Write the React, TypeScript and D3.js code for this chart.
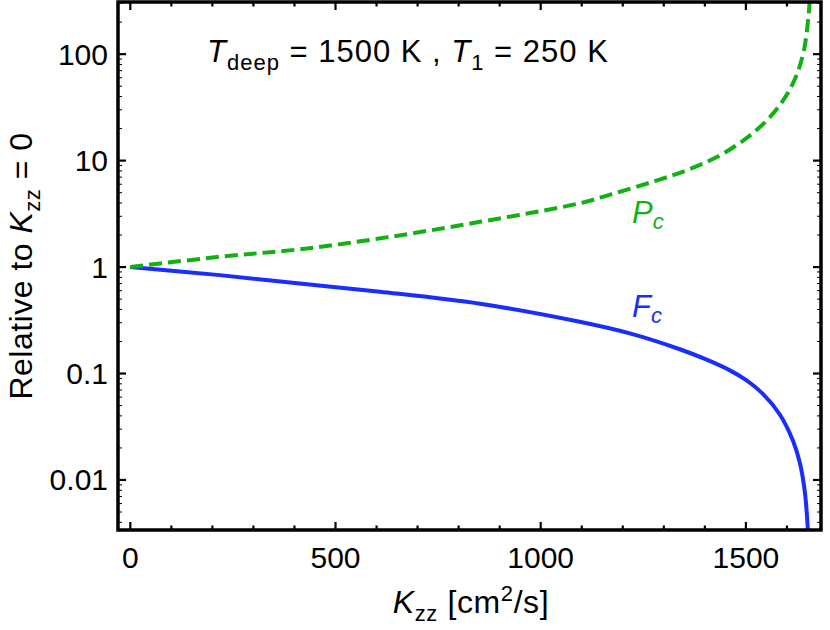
import React, { useEffect, useRef } from 'react';
import * as d3 from 'd3';

// F_c curve (solid blue)
const kzzF = [0, 218, 413, 608, 852, 1095, 1217, 1339, 1400, 1461, 1500, 1542, 1583, 1615, 1632, 1644, 1651, 1656];
const fC = [1, 0.84, 0.70, 0.586, 0.452, 0.306, 0.238, 0.169, 0.137, 0.107, 0.087, 0.064, 0.041, 0.0232, 0.0142, 0.0075, 0.0034, 0.0012];

// P_c curve (dashed green)
const kzzP = [0, 218, 413, 624, 852, 1097, 1171, 1280, 1354, 1429, 1495, 1545, 1587, 1620, 1641, 1653, 1658];
const pC = [1, 1.25, 1.47, 1.9, 2.66, 3.99, 4.82, 6.46, 8.06, 10.8, 15.6, 22.6, 35, 59, 107, 239, 450];

const xTicks = [0, 500, 1000, 1500];
const yTicks = [0.01, 0.1, 1, 10, 100];
const yTickLabels = ['0.01', '0.1', '1', '10', '100'];

const FONT = 'Liberation Sans, Arial, Helvetica, sans-serif';
const BLUE = '#1a2dff';
const GREEN = '#12b012';

const App = () => {
  const ref = useRef<SVGSVGElement>(null);

  useEffect(() => {
    if (!ref.current) return;
    const svg = d3.select(ref.current);
    svg.selectAll('*').remove();

    const left = 118, right = 821, top = 2, bottom = 530;

    const x = d3.scaleLinear().domain([-30, 1683]).range([left, right]);
    const y = d3.scaleLog()
      .domain([Math.pow(10, -2.47), Math.pow(10, 2.49)])
      .range([bottom, top]);

    svg.append('defs').append('clipPath').attr('id', 'plotclip')
      .append('rect')
      .attr('x', left).attr('y', top)
      .attr('width', right - left).attr('height', bottom - top);

    // curves
    const plot = svg.append('g').attr('clip-path', 'url(#plotclip)');

    const lineF = d3.line<number>()
      .x((d, i) => x(kzzF[i]))
      .y(d => y(d))
      .curve(d3.curveCatmullRom.alpha(0.5));
    const lineP = d3.line<number>()
      .x((d, i) => x(kzzP[i]))
      .y(d => y(d))
      .curve(d3.curveCatmullRom.alpha(0.5));

    plot.append('path')
      .datum(fC)
      .attr('d', lineF)
      .attr('fill', 'none')
      .attr('stroke', BLUE)
      .attr('stroke-width', 4);

    plot.append('path')
      .datum(pC)
      .attr('d', lineP)
      .attr('fill', 'none')
      .attr('stroke', GREEN)
      .attr('stroke-width', 4)
      .attr('stroke-dasharray', '13,6');

    // ticks on all four sides
    const tk = svg.append('g').attr('stroke', '#000');
    const xMinor = d3.range(0, 1700, 100);
    xMinor.forEach(v => {
      const len = v % 500 === 0 ? 8 : 4.5;
      tk.append('line').attr('x1', x(v)).attr('x2', x(v)).attr('y1', bottom).attr('y2', bottom - len).attr('stroke-width', 2.2);
      tk.append('line').attr('x1', x(v)).attr('x2', x(v)).attr('y1', top).attr('y2', top + len).attr('stroke-width', 2.2);
    });

    const [y0, y1] = y.domain();
    for (let e = -3; e <= 2; e++) {
      for (let k = 1; k <= 9; k++) {
        const v = k * Math.pow(10, e);
        if (v < y0 || v > y1) continue;
        const major = k === 1;
        const len = major ? 8 : 4;
        const w = major ? 2.2 : 1;
        tk.append('line').attr('x1', left).attr('x2', left + len).attr('y1', y(v)).attr('y2', y(v)).attr('stroke-width', w);
        tk.append('line').attr('x1', right).attr('x2', right - len).attr('y1', y(v)).attr('y2', y(v)).attr('stroke-width', w);
      }
    }

    // frame
    svg.append('rect')
      .attr('x', left).attr('y', top)
      .attr('width', right - left).attr('height', bottom - top)
      .attr('fill', 'none')
      .attr('stroke', '#000')
      .attr('stroke-width', 3.5);

    // tick labels
    svg.append('g').selectAll('text')
      .data(xTicks)
      .join('text')
      .attr('x', d => x(d))
      .attr('y', 568)
      .attr('text-anchor', 'middle')
      .attr('font-family', FONT)
      .attr('font-size', 30)
      .text(d => String(d));

    svg.append('g').selectAll('text')
      .data(yTicks)
      .join('text')
      .attr('x', 108)
      .attr('y', d => y(d) + 10.5)
      .attr('text-anchor', 'end')
      .attr('font-family', FONT)
      .attr('font-size', 30)
      .text((d, i) => yTickLabels[i]);

    // title
    const title = svg.append('text')
      .attr('x', 207).attr('y', 62)
      .attr('font-family', FONT)
      .attr('font-size', 31)
      .attr('letter-spacing', 1)
      .style('white-space', 'pre');
    title.append('tspan').attr('font-style', 'italic').text('T');
    title.append('tspan').attr('font-size', 22).attr('dy', 8).text('deep');
    title.append('tspan').attr('dy', -8).text(' = 1500 K , ');
    title.append('tspan').attr('font-style', 'italic').text('T');
    title.append('tspan').attr('font-size', 22).attr('dy', 8).text('1');
    title.append('tspan').attr('dy', -8).text(' = 250 K');

    // curve labels
    const pl = svg.append('text')
      .attr('x', 632).attr('y', 223)
      .attr('font-family', FONT).attr('font-size', 31)
      .attr('font-style', 'italic').attr('fill', GREEN);
    pl.append('tspan').text('P');
    pl.append('tspan').attr('font-size', 22).attr('dy', 6).text('c');

    const fl = svg.append('text')
      .attr('x', 632).attr('y', 317)
      .attr('font-family', FONT).attr('font-size', 31)
      .attr('font-style', 'italic').attr('fill', BLUE);
    fl.append('tspan').text('F');
    fl.append('tspan').attr('font-size', 22).attr('dy', 6).text('c');

    // x axis label
    const xl = svg.append('text')
      .attr('x', 471).attr('y', 613)
      .attr('text-anchor', 'middle')
      .attr('font-family', FONT).attr('font-size', 32)
      .attr('letter-spacing', 0.6)
      .style('white-space', 'pre');
    xl.append('tspan').attr('font-style', 'italic').text('K');
    xl.append('tspan').attr('font-size', 22).attr('dy', 8).text('zz');
    xl.append('tspan').attr('dy', -8).text(' [cm');
    xl.append('tspan').attr('font-size', 22).attr('dy', -12).text('2');
    xl.append('tspan').attr('dy', 12).text('/s]');

    // y axis label
    const yl = svg.append('text')
      .attr('transform', 'translate(32,266) rotate(-90)')
      .attr('text-anchor', 'middle')
      .attr('font-family', FONT).attr('font-size', 32)
      .attr('letter-spacing', 0.5)
      .style('white-space', 'pre');
    yl.append('tspan').text('Relative to ');
    yl.append('tspan').attr('font-style', 'italic').text('K');
    yl.append('tspan').attr('font-size', 22).attr('dy', 8).text('zz');
    yl.append('tspan').attr('dy', -8).text(' = 0');
  }, []);

  return (
    <svg
      ref={ref}
      width={830}
      height={630}
      style={{ position: 'absolute', left: 0, top: 0, background: '#fff' }}
    />
  );
};

export default App;
